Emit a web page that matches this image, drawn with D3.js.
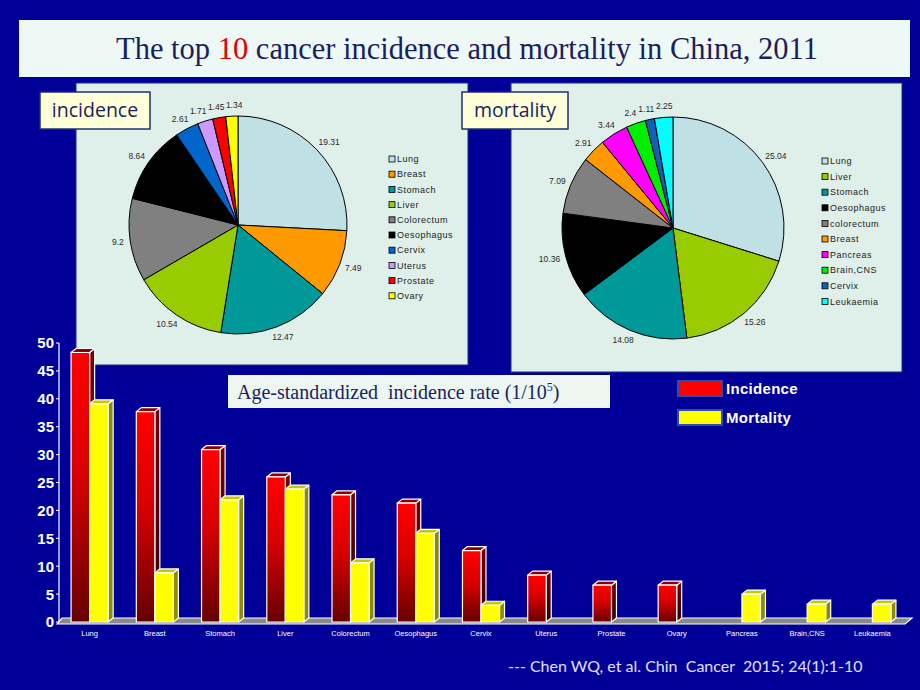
<!DOCTYPE html>
<html><head><meta charset="utf-8">
<script src="https://cdn.jsdelivr.net/npm/d3@7"></script>
<style>body{margin:0;background:#000099;} svg{display:block}</style>
</head><body><svg id="c" width="920" height="690"></svg>
<script>
// ---------- data ----------
const incCategories = ["Lung","Breast","Stomach","Liver","Colorectum","Oesophagus","Cervix","Uterus","Prostate","Ovary"];
const incShares = [19.31,7.49,12.47,10.54,9.2,8.64,2.61,1.71,1.45,1.34];
const incColors = ["#BFE0E4","#FF9900","#009999","#99CC00","#808080","#000000","#0066CC","#CC99FF","#FF0000","#FFFF00"];

const morCategories = ["Lung","Liver","Stomach","Oesophagus","colorectum","Breast","Pancreas","Brain,CNS","Cervix","Leukaemia"];
const morShares = [25.04,15.26,14.08,10.36,7.09,2.91,3.44,2.4,1.11,2.25];
const morColors = ["#BFE0E4","#99CC00","#009999","#000000","#808080","#FF9900","#FF00FF","#00EE00","#1060B8","#00FFFF"];

const barCategories = ["Lung","Breast","Stomach","Liver","Colorectum","Oesophagus","Cervix","Uterus","Prostate","Ovary","Pancreas","Brain,CNS","Leukaemia"];
const incidenceRates = [48.3,37.7,30.9,26.0,22.8,21.3,12.8,8.4,6.6,6.6,null,null,null];
const mortalityRates = [39.1,8.8,21.9,23.8,10.6,15.9,3.0,null,null,null,5.0,3.2,3.2];
const seriesNames = ["Incidence","Mortality"];
const yTicks = [0,5,10,15,20,25,30,35,40,45,50];

// ---------- drawing ----------
const svg = d3.select("#c");
const NAVY = "#1a1f5e";
svg.append("rect").attr("width",920).attr("height",690).attr("fill","#000099");

// title
svg.append("rect").attr("x",19).attr("y",20).attr("width",891).attr("height",57).attr("fill","#EEF8F4");
const title = svg.append("text").attr("x",467).attr("y",59).attr("text-anchor","middle")
  .attr("font-family","'Liberation Serif','Times New Roman',serif").attr("font-size",30.5).attr("fill",NAVY);
title.append("tspan").text("The top ");
title.append("tspan").attr("fill","#E00000").text("10");
title.append("tspan").text(" cancer incidence and mortality in China, 2011");

// pie panels
function piePanel(px, py, pw, ph, cx, cy, r, cats, vals, cols, legX, legY, legStep, tag, tagX, tagW) {
  svg.append("rect").attr("x",px).attr("y",py).attr("width",pw).attr("height",ph)
    .attr("fill","#DFF0EA").attr("stroke","#1f2f7f").attr("stroke-width",1);
  const g = svg.append("g").attr("transform",`translate(${cx},${cy})`);
  const pie = d3.pie().sort(null).value(d=>d.v);
  const data = pie(cats.map((c,i)=>({c, v: vals[i], col: cols[i]})));
  const arc = d3.arc().innerRadius(0).outerRadius(r);
  g.selectAll("path").data(data).join("path").attr("d",arc)
    .attr("fill",d=>d.data.col).attr("stroke","#000").attr("stroke-width",1);

  // label layout: box just outside the rim, then separate overlapping neighbours
  const fs = 8.5, h = 10;
  const labs = data.map(d=>{
    const a = (d.startAngle+d.endAngle)/2, s = Math.sin(a), c = Math.cos(a);
    const txt = String(d.data.v), w = txt.length*fs*0.5;
    return {txt, w, x: (r+6)*s + (w/2)*s, y: -(r+6)*c - (h/2)*c};
  });
  for (let it=0; it<20; it++) {
    for (let i=0;i<labs.length;i++){
      const A = labs[i], B = labs[(i+1)%labs.length];
      const ox = (A.w+B.w)/2 + 1 - Math.abs(A.x-B.x), oy = h - Math.abs(A.y-B.y);
      if (ox>0 && oy>0) { const sgn = A.x<B.x?1:-1; A.x -= sgn*ox/2; B.x += sgn*ox/2; }
    }
  }
  g.selectAll("text").data(labs).join("text")
    .attr("x",d=>d.x).attr("y",d=>d.y)
    .attr("text-anchor","middle").attr("dy","0.35em")
    .attr("font-family","'Liberation Sans',Arial,sans-serif").attr("font-size",fs)
    .attr("fill","#2a2a2a").text(d=>d.txt);

  const lg = svg.append("g");
  cats.forEach((c,i)=>{
    const yy = legY + i*legStep;
    lg.append("rect").attr("x",legX).attr("y",yy-3).attr("width",6).attr("height",6)
      .attr("fill",cols[i]).attr("stroke","#000").attr("stroke-width",0.8);
    lg.append("text").attr("x",legX+8).attr("y",yy).attr("dy","0.35em")
      .attr("font-family","'Liberation Sans',Arial,sans-serif").attr("font-size",9)
      .attr("letter-spacing",0.5).attr("fill","#222").text(c);
  });
  svg.append("rect").attr("x",tagX).attr("y",92).attr("width",tagW).attr("height",37)
    .attr("fill","#FFFFD8").attr("stroke","#1f2f6f").attr("stroke-width",1.5);
  svg.append("text").attr("x",tagX+tagW/2).attr("y",117).attr("text-anchor","middle")
    .attr("font-family","'Open Sans',Lato,sans-serif").attr("font-size",19.5).attr("fill",NAVY).text(tag);
}
piePanel(76,83,392,282,238,225,109,incCategories,incShares,incColors,389,159,15.2,"incidence",40,110);
piePanel(511,83,391,289,673,228,111,morCategories,morShares,morColors,822,161,15.6,"mortality",462,106);

// ---------- 3D bar chart ----------
const x = d3.scaleBand().domain(barCategories).range([57,905]);
const x1 = d3.scaleBand().domain(seriesNames).range([0,x.bandwidth()]).paddingOuter(0.76);
const y = d3.scaleLinear().domain([0,50]).range([622,343]);
const DX = 5, DY = -4;

const defs = svg.append("defs");
function grad(id, stops){
  const lg = defs.append("linearGradient").attr("id",id).attr("x1",0).attr("y1",0).attr("x2",0).attr("y2",1);
  stops.forEach(([o,c])=>lg.append("stop").attr("offset",o).attr("stop-color",c));
}
grad("redFront",[[0,"#FF0000"],[0.45,"#D80000"],[1,"#660000"]]);
grad("redSide",[[0,"#7A0000"],[1,"#2A0000"]]);
const styles = {
  Incidence:{front:"url(#redFront)", side:"url(#redSide)", top:"#8A0000"},
  Mortality:{front:"#FFFF00", side:"#8C8C00", top:"#C8C800"}
};

// floor
const fx0 = x.range()[0], fx1 = x.range()[1], fy = y(0);
svg.append("path")
  .attr("d",`M${fx0},${fy+2}L${fx1},${fy+2}L${fx1+DX+2},${fy+DY}L${fx0+DX},${fy+DY}Z`)
  .attr("fill","#8a8a8a").attr("stroke","#fff").attr("stroke-width",1.2);

// axis
const ax = svg.append("g").attr("transform",`translate(59,0)`);
ax.append("line").attr("x1",0).attr("x2",0).attr("y1",y(50)).attr("y2",y(0)).attr("stroke","#fff").attr("stroke-width",1.2);
yTicks.forEach(t=>{
  ax.append("line").attr("x1",-3).attr("x2",0).attr("y1",y(t)).attr("y2",y(t)).attr("stroke","#fff");
  ax.append("text").attr("x",-5).attr("y",y(t)).attr("dy","0.36em").attr("text-anchor","end")
    .attr("font-family","'Liberation Sans',Arial,sans-serif").attr("font-weight","bold").attr("font-size",15)
    .attr("fill","#fff").text(t);
});

const bars = svg.append("g");
barCategories.forEach((c,i)=>{
  [incidenceRates[i], mortalityRates[i]].forEach((v,k)=>{
    if (v === null) return;
    const key = seriesNames[k], st = styles[key];
    const x0 = x(c)+x1(key), w = x1.bandwidth(), yt = y(v), yb = y(0);
    const g = bars.append("g").attr("stroke","#fff").attr("stroke-width",1.2).attr("stroke-linejoin","round");
    g.append("path").attr("d",`M${x0+w},${yt}L${x0+w+DX},${yt+DY}L${x0+w+DX},${yb+DY}L${x0+w},${yb}Z`).attr("fill",st.side);
    g.append("path").attr("d",`M${x0},${yt}L${x0+DX},${yt+DY}L${x0+w+DX},${yt+DY}L${x0+w},${yt}Z`).attr("fill",st.top);
    g.append("rect").attr("x",x0).attr("y",yt).attr("width",w).attr("height",yb-yt).attr("fill",st.front);
  });
});

// category labels
svg.append("g").selectAll("text").data(barCategories).join("text")
  .attr("x",d=>x(d)+x.bandwidth()/2).attr("y",633).attr("dy","0.35em").attr("text-anchor","middle")
  .attr("font-family","'Liberation Sans',Arial,sans-serif").attr("font-size",7.5).attr("fill","#fff").text(d=>d);

// subtitle box
svg.append("rect").attr("x",228).attr("y",375).attr("width",382).attr("height",33).attr("fill","#EEF6F2");
const st = svg.append("text").attr("x",237).attr("y",399)
  .attr("font-family","'Liberation Serif','Times New Roman',serif").attr("font-size",20).attr("fill",NAVY);
st.append("tspan").text("Age-standardized\u00a0\u00a0incidence rate (1/10");
st.append("tspan").attr("font-size",12).attr("dy",-8).text("5");
st.append("tspan").attr("dy",8).text(")");

// legend
const legCols = {Incidence:"#FF0000", Mortality:"#FFFF00"};
seriesNames.forEach((s,i)=>{
  const yy = 381 + i*29;
  svg.append("rect").attr("x",678).attr("y",yy).attr("width",44).attr("height",15)
    .attr("fill",legCols[s]).attr("stroke","#2a4fa8").attr("stroke-width",2);
  svg.append("text").attr("x",726).attr("y",yy+7.5).attr("dy","0.35em")
    .attr("font-family","'Liberation Sans',Arial,sans-serif").attr("font-weight","bold").attr("font-size",15)
    .attr("letter-spacing",0.3).attr("fill","#fff").text(s);
});

// citation
svg.append("text").attr("x",508).attr("y",672)
  .attr("font-family","Lato,'Open Sans',sans-serif").attr("font-size",16).attr("fill","#E0E0FF")
  .text("--- Chen WQ, et al. Chin\u00a0\u00a0Cancer\u00a0\u00a02015; 24(1):1-10");
</script></body></html>
